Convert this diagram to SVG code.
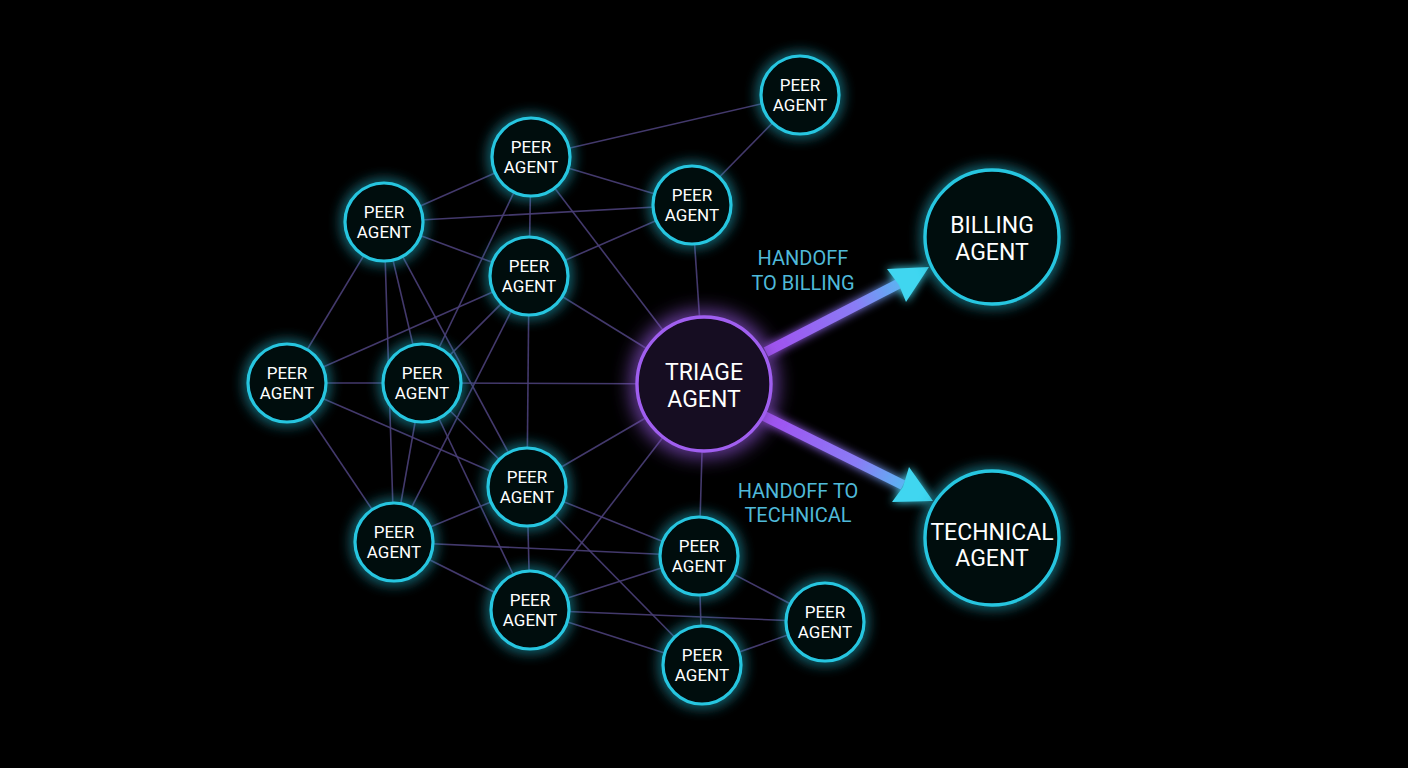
<svg xmlns="http://www.w3.org/2000/svg" width="1408" height="768" viewBox="0 0 1408 768">
<defs>
<style>
.edge{stroke:#4a3f78;stroke-width:1.6;fill:none;opacity:0.9}
.peer circle{fill:#030b0e;stroke:#27c6e0;stroke-width:3.2;filter:url(#glowC)}
.big circle{fill:#030b0e;stroke:#27c6e0;stroke-width:3.4;filter:url(#glowC)}
.tri circle{fill:#160a20;stroke:#a05ff0;stroke-width:3.4;filter:url(#glowP)}
.pt{font-family:Roboto,"Liberation Sans",sans-serif;font-size:17px;fill:#ffffff;text-anchor:middle}
.bt{font-family:Roboto,"Liberation Sans",sans-serif;font-size:23px;fill:#ffffff;text-anchor:middle}
.lbl{font-family:Roboto,"Liberation Sans",sans-serif;font-size:20px;fill:#4fb9d9;text-anchor:middle}
</style>
<filter id="glowC" x="-60%" y="-60%" width="220%" height="220%">
<feMorphology in="SourceGraphic" operator="dilate" radius="1" result="d"/>
<feGaussianBlur in="d" stdDeviation="7" result="b"/>
<feComponentTransfer in="b" result="c"><feFuncA type="linear" slope="0.8"/></feComponentTransfer>
<feMerge><feMergeNode in="c"/><feMergeNode in="SourceGraphic"/></feMerge>
</filter>
<filter id="glowP" x="-60%" y="-60%" width="220%" height="220%">
<feMorphology in="SourceGraphic" operator="dilate" radius="2" result="d"/>
<feGaussianBlur in="d" stdDeviation="10" result="b"/>
<feMerge><feMergeNode in="b"/><feMergeNode in="SourceGraphic"/></feMerge>
</filter>
<filter id="glowA" x="-30%" y="-30%" width="160%" height="160%">
<feGaussianBlur in="SourceGraphic" stdDeviation="5" result="b"/>
<feMerge><feMergeNode in="b"/><feMergeNode in="SourceGraphic"/></feMerge>
</filter>
<linearGradient id="gB" gradientUnits="userSpaceOnUse" x1="766" y1="352" x2="928" y2="268">
<stop offset="0" stop-color="#a24ff0"/><stop offset="0.55" stop-color="#8a7cf5"/><stop offset="1" stop-color="#3fd6f0"/>
</linearGradient>
<linearGradient id="gT" gradientUnits="userSpaceOnUse" x1="764" y1="416" x2="932" y2="500">
<stop offset="0" stop-color="#a24ff0"/><stop offset="0.55" stop-color="#8a7cf5"/><stop offset="1" stop-color="#3fd6f0"/>
</linearGradient>
</defs>
<rect width="1408" height="768" fill="#000000"/>
<g id="connectors">
<line class="edge" x1="531" y1="157" x2="800" y2="95"/>
<line class="edge" x1="800" y1="95" x2="692" y2="205"/>
<line class="edge" x1="531" y1="157" x2="384" y2="222"/>
<line class="edge" x1="531" y1="157" x2="692" y2="205"/>
<line class="edge" x1="531" y1="157" x2="529" y2="276"/>
<line class="edge" x1="531" y1="157" x2="704" y2="384"/>
<line class="edge" x1="531" y1="157" x2="422" y2="383"/>
<line class="edge" x1="384" y1="222" x2="692" y2="205"/>
<line class="edge" x1="692" y1="205" x2="529" y2="276"/>
<line class="edge" x1="692" y1="205" x2="704" y2="384"/>
<line class="edge" x1="384" y1="222" x2="529" y2="276"/>
<line class="edge" x1="384" y1="222" x2="287" y2="383"/>
<line class="edge" x1="384" y1="222" x2="394" y2="542"/>
<line class="edge" x1="384" y1="222" x2="422" y2="383"/>
<line class="edge" x1="384" y1="222" x2="527" y2="487"/>
<line class="edge" x1="529" y1="276" x2="287" y2="383"/>
<line class="edge" x1="529" y1="276" x2="422" y2="383"/>
<line class="edge" x1="529" y1="276" x2="394" y2="542"/>
<line class="edge" x1="529" y1="276" x2="527" y2="487"/>
<line class="edge" x1="529" y1="276" x2="704" y2="384"/>
<line class="edge" x1="287" y1="383" x2="422" y2="383"/>
<line class="edge" x1="422" y1="383" x2="704" y2="384"/>
<line class="edge" x1="287" y1="383" x2="527" y2="487"/>
<line class="edge" x1="287" y1="383" x2="394" y2="542"/>
<line class="edge" x1="422" y1="383" x2="394" y2="542"/>
<line class="edge" x1="422" y1="383" x2="530" y2="610"/>
<line class="edge" x1="422" y1="383" x2="527" y2="487"/>
<line class="edge" x1="527" y1="487" x2="704" y2="384"/>
<line class="edge" x1="704" y1="384" x2="530" y2="610"/>
<line class="edge" x1="704" y1="384" x2="699" y2="556"/>
<line class="edge" x1="527" y1="487" x2="394" y2="542"/>
<line class="edge" x1="527" y1="487" x2="699" y2="556"/>
<line class="edge" x1="527" y1="487" x2="530" y2="610"/>
<line class="edge" x1="527" y1="487" x2="702" y2="665"/>
<line class="edge" x1="394" y1="542" x2="699" y2="556"/>
<line class="edge" x1="394" y1="542" x2="530" y2="610"/>
<line class="edge" x1="530" y1="610" x2="699" y2="556"/>
<line class="edge" x1="530" y1="610" x2="825" y2="622"/>
<line class="edge" x1="530" y1="610" x2="702" y2="665"/>
<line class="edge" x1="699" y1="556" x2="702" y2="665"/>
<line class="edge" x1="699" y1="556" x2="825" y2="622"/>
<line class="edge" x1="702" y1="665" x2="825" y2="622"/>
<g id="handoff-billing" filter="url(#glowA)">
<line x1="766" y1="352" x2="900" y2="283" stroke="url(#gB)" stroke-width="10"/>
<polygon points="929,267 906,302 899,285 887,269" fill="#3fd6f0"/>
</g>
<g id="handoff-technical" filter="url(#glowA)">
<line x1="764" y1="416" x2="903" y2="485" stroke="url(#gT)" stroke-width="10"/>
<polygon points="933,501 892,502 903,487 909,467" fill="#3fd6f0"/>
</g>
<text class="lbl" x="803" y="265">HANDOFF</text>
<text class="lbl" x="803" y="290">TO BILLING</text>
<text class="lbl" x="798" y="498">HANDOFF TO</text>
<text class="lbl" x="798" y="522">TECHNICAL</text>
</g>
<g id="peer-1" class="peer"><circle cx="800" cy="95" r="39"/><text class="pt" x="800" y="91">PEER</text><text class="pt" x="800" y="111">AGENT</text></g>
<g id="peer-2" class="peer"><circle cx="531" cy="157" r="39"/><text class="pt" x="531" y="153">PEER</text><text class="pt" x="531" y="173">AGENT</text></g>
<g id="peer-3" class="peer"><circle cx="692" cy="205" r="39"/><text class="pt" x="692" y="201">PEER</text><text class="pt" x="692" y="221">AGENT</text></g>
<g id="peer-4" class="peer"><circle cx="384" cy="222" r="39"/><text class="pt" x="384" y="218">PEER</text><text class="pt" x="384" y="238">AGENT</text></g>
<g id="peer-5" class="peer"><circle cx="529" cy="276" r="39"/><text class="pt" x="529" y="272">PEER</text><text class="pt" x="529" y="292">AGENT</text></g>
<g id="peer-6" class="peer"><circle cx="287" cy="383" r="39"/><text class="pt" x="287" y="379">PEER</text><text class="pt" x="287" y="399">AGENT</text></g>
<g id="peer-7" class="peer"><circle cx="422" cy="383" r="39"/><text class="pt" x="422" y="379">PEER</text><text class="pt" x="422" y="399">AGENT</text></g>
<g id="peer-8" class="peer"><circle cx="527" cy="487" r="39"/><text class="pt" x="527" y="483">PEER</text><text class="pt" x="527" y="503">AGENT</text></g>
<g id="peer-9" class="peer"><circle cx="394" cy="542" r="39"/><text class="pt" x="394" y="538">PEER</text><text class="pt" x="394" y="558">AGENT</text></g>
<g id="peer-10" class="peer"><circle cx="699" cy="556" r="39"/><text class="pt" x="699" y="552">PEER</text><text class="pt" x="699" y="572">AGENT</text></g>
<g id="peer-11" class="peer"><circle cx="530" cy="610" r="39"/><text class="pt" x="530" y="606">PEER</text><text class="pt" x="530" y="626">AGENT</text></g>
<g id="peer-12" class="peer"><circle cx="825" cy="622" r="39"/><text class="pt" x="825" y="618">PEER</text><text class="pt" x="825" y="638">AGENT</text></g>
<g id="peer-13" class="peer"><circle cx="702" cy="665" r="39"/><text class="pt" x="702" y="661">PEER</text><text class="pt" x="702" y="681">AGENT</text></g>
<g id="triage" class="tri"><circle cx="704" cy="384" r="67"/><text class="bt" x="704" y="380">TRIAGE</text><text class="bt" x="704" y="407">AGENT</text></g>
<g id="billing" class="big"><circle cx="992" cy="237" r="67"/><text class="bt" x="992" y="233">BILLING</text><text class="bt" x="992" y="260">AGENT</text></g>
<g id="technical" class="big"><circle cx="992" cy="538" r="67"/><text class="bt" x="992" y="540">TECHNICAL</text><text class="bt" x="992" y="566">AGENT</text></g>
</svg>
